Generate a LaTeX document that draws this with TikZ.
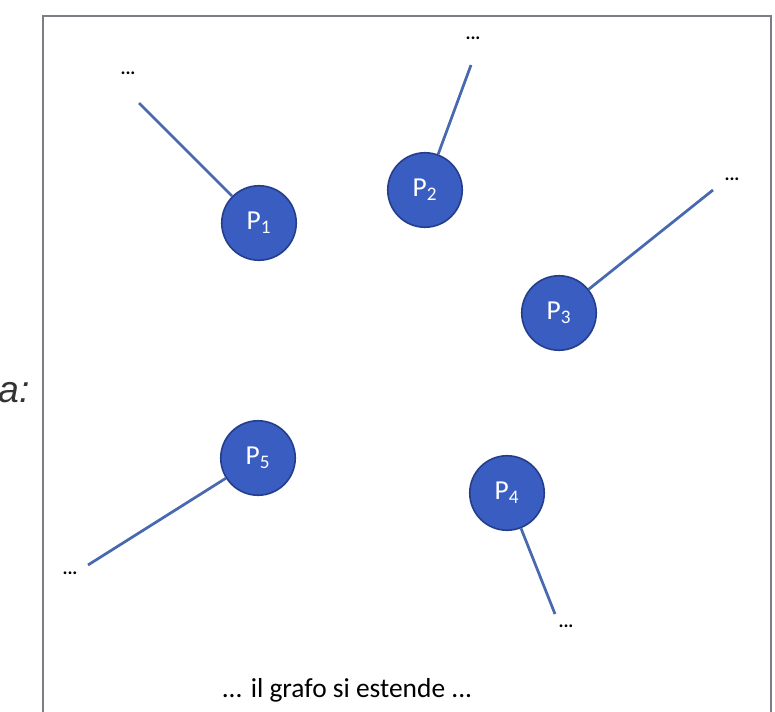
\documentclass[tikz,border=0pt]{standalone}
\usepackage{fontspec}
\setmainfont{Carlito}
\newfontfamily\lightfont{Liberation Sans}
\definecolor{gpfill}{RGB}{58,93,194}
\definecolor{gpedge}{RGB}{37,62,140}
\definecolor{gpline}{RGB}{72,104,175}
\definecolor{gpframe}{RGB}{125,125,132}
\tikzset{
  gpnode/.style={circle, fill=gpfill, draw=gpedge, line width=1.3pt, minimum size=2.1cm, inner sep=0pt, text=white, font=\fontsize{22}{22}\selectfont},
  gpedge/.style={line width=2.2pt, draw=gpline},
  gpdots/.style={font=\fontsize{15}{15}\selectfont\bfseries, inner sep=0pt},
  gpframe/.style={line width=1.8pt, draw=gpframe},
}
\begin{document}
\begin{tikzpicture}[x=0.0282cm, y=-0.0282cm]
\useasboundingbox (0,0) rectangle (775,712);
\clip (0,0) rectangle (775,712);
\draw[gpframe] (43,16) rectangle (771,730);
\node[anchor=east, font=\fontsize{30}{30}\selectfont\lightfont\itshape, text=black!80] (a) at (34,393) {a:};
% nodes
\node[gpnode] (p1) at (259,223) {P\textsubscript{1}};
\node[gpnode] (p2) at (425,190) {P\textsubscript{2}};
\node[gpnode] (p3) at (559,313) {P\textsubscript{3}};
\node[gpnode] (p4) at (507,493) {P\textsubscript{4}};
\node[gpnode] (p5) at (258,458) {P\textsubscript{5}};
% free ends
\coordinate (e1) at (139,103);
\coordinate (e2) at (471,65);
\coordinate (e3) at (713,190);
\coordinate (e4) at (555,614);
\coordinate (e5) at (88,565);
\draw[gpedge] (p1) -- (e1);
\draw[gpedge] (p2) -- (e2);
\draw[gpedge] (p3) -- (e3);
\draw[gpedge] (p4) -- (e4);
\draw[gpedge] (p5) -- (e5);
\node[gpdots] (d1) at (128,73) {...};
\node[gpdots] (d2) at (473,38) {...};
\node[gpdots] (d3) at (732,179) {...};
\node[gpdots] (d4) at (566,626) {...};
\node[gpdots] (d5) at (70,573) {...};
\node[font=\fontsize{22}{22}\selectfont] (t) at (347,690) {... il grafo si estende ...};
\end{tikzpicture}
\end{document}
